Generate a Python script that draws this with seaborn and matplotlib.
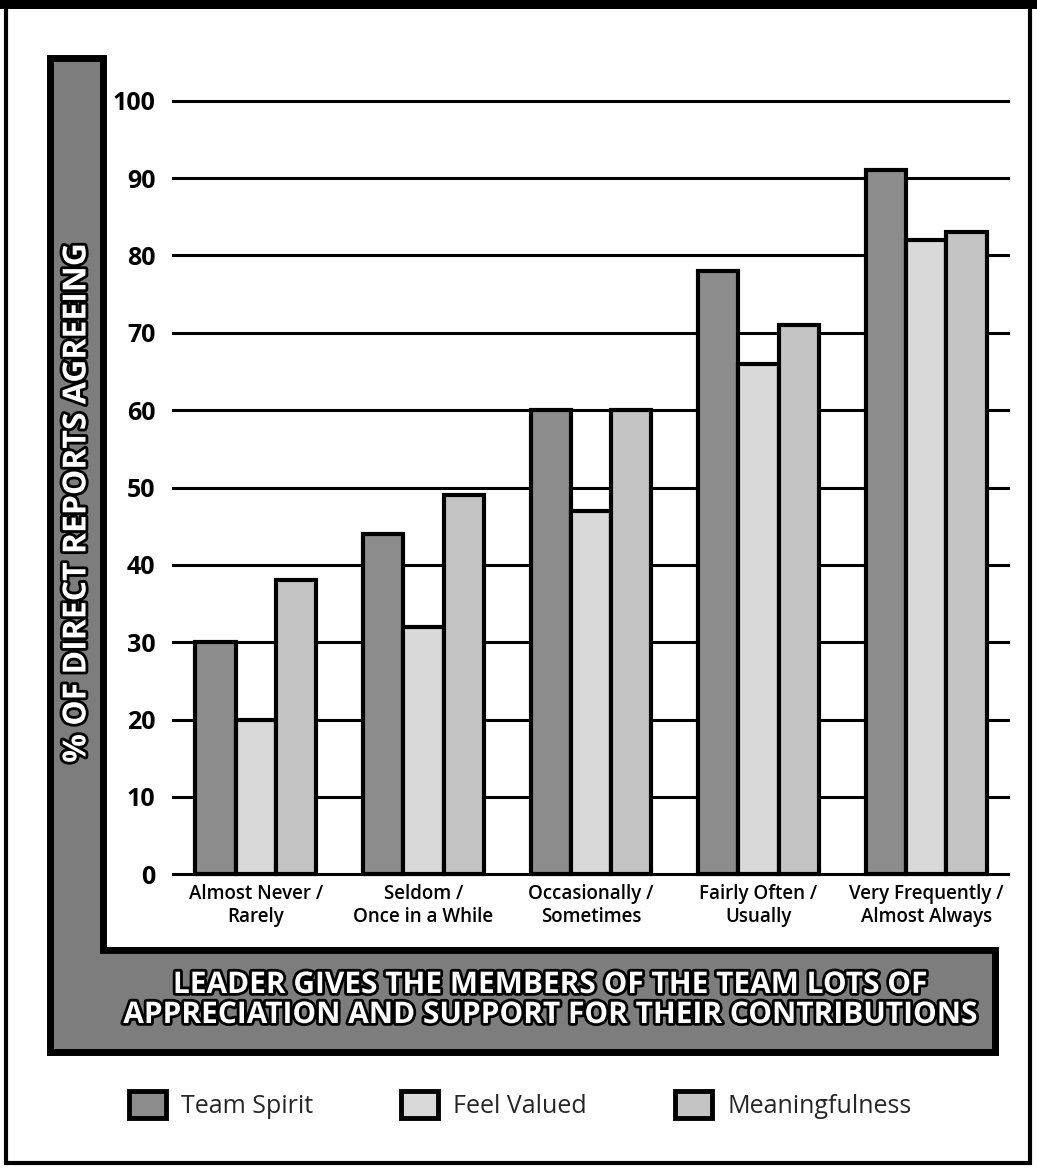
import matplotlib
matplotlib.use("Agg")
import matplotlib.pyplot as plt
import matplotlib.patheffects as pe
from matplotlib.patches import Rectangle, Polygon, Patch
import seaborn as sns
import pandas as pd

# ---- data ----
categories = ["Almost Never /\nRarely", "Seldom /\nOnce in a While",
              "Occasionally /\nSometimes", "Fairly Often /\nUsually",
              "Very Frequently /\nAlmost Always"]
series_names = ["Team Spirit", "Feel Valued", "Meaningfulness"]
team_spirit = [30, 44, 60, 78, 91]
feel_valued = [20, 32, 47, 66, 82]
meaningfulness = [38, 49, 60, 71, 83]
y_ticks = [0, 10, 20, 30, 40, 50, 60, 70, 80, 90, 100]
y_label = "% OF DIRECT REPORTS AGREEING"
x_label = "LEADER GIVES THE MEMBERS OF THE TEAM LOTS OF\nAPPRECIATION AND SUPPORT FOR THEIR CONTRIBUTIONS"
colors = ["#8c8c8c", "#d9d9d9", "#c4c4c4"]

sns.set_theme(style="white")
plt.rcParams["font.family"] = ["Open Sans", "DejaVu Sans"]

rows = []
for name, vals in zip(series_names, [team_spirit, feel_valued, meaningfulness]):
    for c, v in zip(categories, vals):
        rows.append({"category": c, "series": name, "value": v})
df = pd.DataFrame(rows)

W, H = 1037, 1170
fig = plt.figure(figsize=(W / 100, H / 100), dpi=100, facecolor="white")


def fx(px):
    return px / W


def fy(py):
    return 1 - py / H


# page frame
fig.patches.append(Rectangle((fx(6), fy(1163)), fx(1030) - fx(6), fy(6) - fy(1163),
                             fill=False, edgecolor="black", linewidth=3,
                             transform=fig.transFigure, zorder=0))
fig.patches.append(Rectangle((0, fy(9)), 1, fy(0) - fy(9), facecolor="black",
                             edgecolor="none", transform=fig.transFigure, zorder=0))

# L-shaped label band
band_pts = [(50, 58), (103, 58), (103, 950), (995, 950), (995, 1052), (50, 1052)]
fig.patches.append(Polygon([(fx(x), fy(y)) for x, y in band_pts], closed=True,
                           facecolor="#7d7d7d", edgecolor="black", linewidth=5,
                           transform=fig.transFigure, zorder=0))

ax = fig.add_axes([fx(172), fy(877), (1010 - 172) / W, (877 - 98) / H])
ax.set_facecolor("none")

sns.barplot(data=df, x="category", y="value", hue="series", order=categories,
            hue_order=series_names, palette=colors, saturation=1, width=0.72,
            gap=0, edgecolor="black", linewidth=3, ax=ax, legend=False, errorbar=None)

ax.set_xlim(-0.5, 4.5)
ax.set_ylim(-0.35, 100.35)
ax.set_yticks(y_ticks)
ax.set_yticklabels([str(t) for t in y_ticks], fontsize=18, fontweight="bold", color="black")
ax.yaxis.grid(True, color="black", linewidth=2.2)
ax.set_axisbelow(True)
for s in ax.spines.values():
    s.set_visible(False)
ax.tick_params(axis="y", length=0, pad=12)
ax.tick_params(axis="x", length=0, pad=5)
for lab in ax.get_xticklabels():
    lab.set_fontsize(13.5)
    lab.set_fontweight("semibold")
    lab.set_color("black")
ax.set_xlabel("")
ax.set_ylabel("")

stroke = [pe.withStroke(linewidth=4, foreground="black")]
fig.text(fx(77), fy(502), y_label, rotation=90, ha="center", va="center",
         color="white", fontsize=23, fontweight="bold", path_effects=stroke)
fig.text(fx(550), fy(1000), x_label, ha="center", va="center", color="white",
         fontsize=21.5, fontweight="bold", linespacing=1.0, path_effects=stroke)

handles = [Patch(facecolor=c, edgecolor="black", linewidth=3.5, label=s)
           for c, s in zip(colors, series_names)]
fig.legend(handles=handles, loc="center", bbox_to_anchor=(fx(520), fy(1105)),
           ncol=3, frameon=False, fontsize=18, handlelength=1.5, handleheight=1.3,
           columnspacing=3.5, handletextpad=0.6)

fig.savefig("out.png", dpi=100, facecolor="white")
